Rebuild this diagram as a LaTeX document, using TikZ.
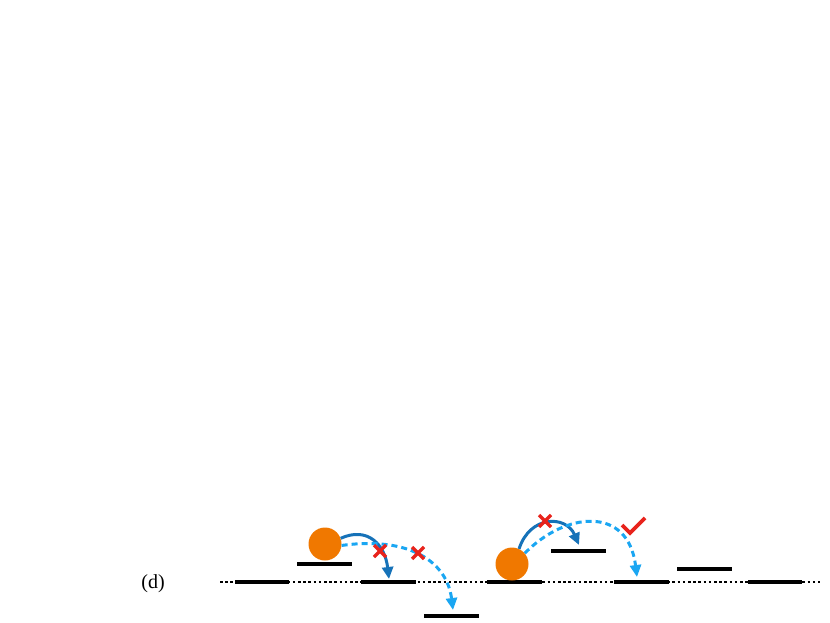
\documentclass[tikz,border=0pt]{standalone}
\usepackage{fontspec}
\setmainfont{Liberation Serif}
\usetikzlibrary{arrows.meta}
\definecolor{ballor}{HTML}{F07800}
\definecolor{darkbl}{HTML}{1672B8}
\definecolor{lightbl}{HTML}{1AA6F2}
\definecolor{xred}{HTML}{E8231C}
\begin{document}
\begin{tikzpicture}[x=1pt,y=-1pt,
  bar/.style={line width=4.6pt},
  baseline/.style={line width=1.1pt,dash pattern=on 2.6pt off 2.6pt},
  ball/.style={circle,fill=ballor,inner sep=0pt,minimum size=33pt},
  solidarr/.style={draw=darkbl,line width=3pt,-{Triangle[length=12pt,width=11pt]}},
  dasharr/.style={draw=lightbl,line width=3pt,dash pattern=on 6pt off 4pt,-{Triangle[length=12pt,width=11pt]}},
  xmark/.style={draw=xred,line width=3.2pt},
  lbl/.style={font=\fontsize{20}{23}\selectfont,inner sep=0pt}]
\useasboundingbox (0,0) rectangle (830,623);
% baseline
\coordinate (bl0) at (220,582);
\coordinate (bl1) at (820,582);
\draw[baseline] (bl0) -- (bl1);
% bars
\foreach \n/\xa/\xb/\yy in {1/235/289/582, 2/297/352/564, 3/361/416/582, 4/424/479/616, 5/487/542/582, 6/551/606/551, 7/614/669/582, 8/677/732/569, 9/748/802/582}{
  \coordinate (s\n a) at (\xa,\yy);
  \coordinate (s\n b) at (\xb,\yy);
  \draw[bar] (s\n a) -- (s\n b);
}
% label
\node[lbl] (lab) at (153,584) {(d)};
% balls
\node[ball] (b1) at (325,544) {};
\node[ball] (b2) at (512,564) {};
% arrows ball 1
\coordinate (t1) at (389,579);
\coordinate (t2) at (453,610);
\draw[solidarr] (b1.20) .. controls (368,526) and (385,545) .. (t1);
\draw[dasharr] (b1.-5) .. controls (410,536) and (447,562) .. (t2);
% arrows ball 2
\coordinate (t3) at (579,545);
\coordinate (t4) at (637,577);
\draw[solidarr] (b2.65) .. controls (530,515) and (566,515) .. (t3);
\draw[dasharr] (b2.40) .. controls (565,512) and (628,505) .. (t4);
% red crosses
\foreach \n/\cx/\cy in {1/380/551, 2/418/553, 3/545/521}{
  \coordinate (x\n) at (\cx,\cy);
  \draw[xmark] ([shift={(-6,-6)}]x\n) -- ([shift={(6,6)}]x\n);
  \draw[xmark] ([shift={(-6,6)}]x\n) -- ([shift={(6,-6)}]x\n);
}
% check mark
\coordinate (ck1) at (622,525);
\coordinate (ck2) at (630,533);
\coordinate (ck3) at (645,518);
\draw[xmark,line width=3.6pt] (ck1) -- (ck2) -- (ck3);
\end{tikzpicture}
\end{document}
